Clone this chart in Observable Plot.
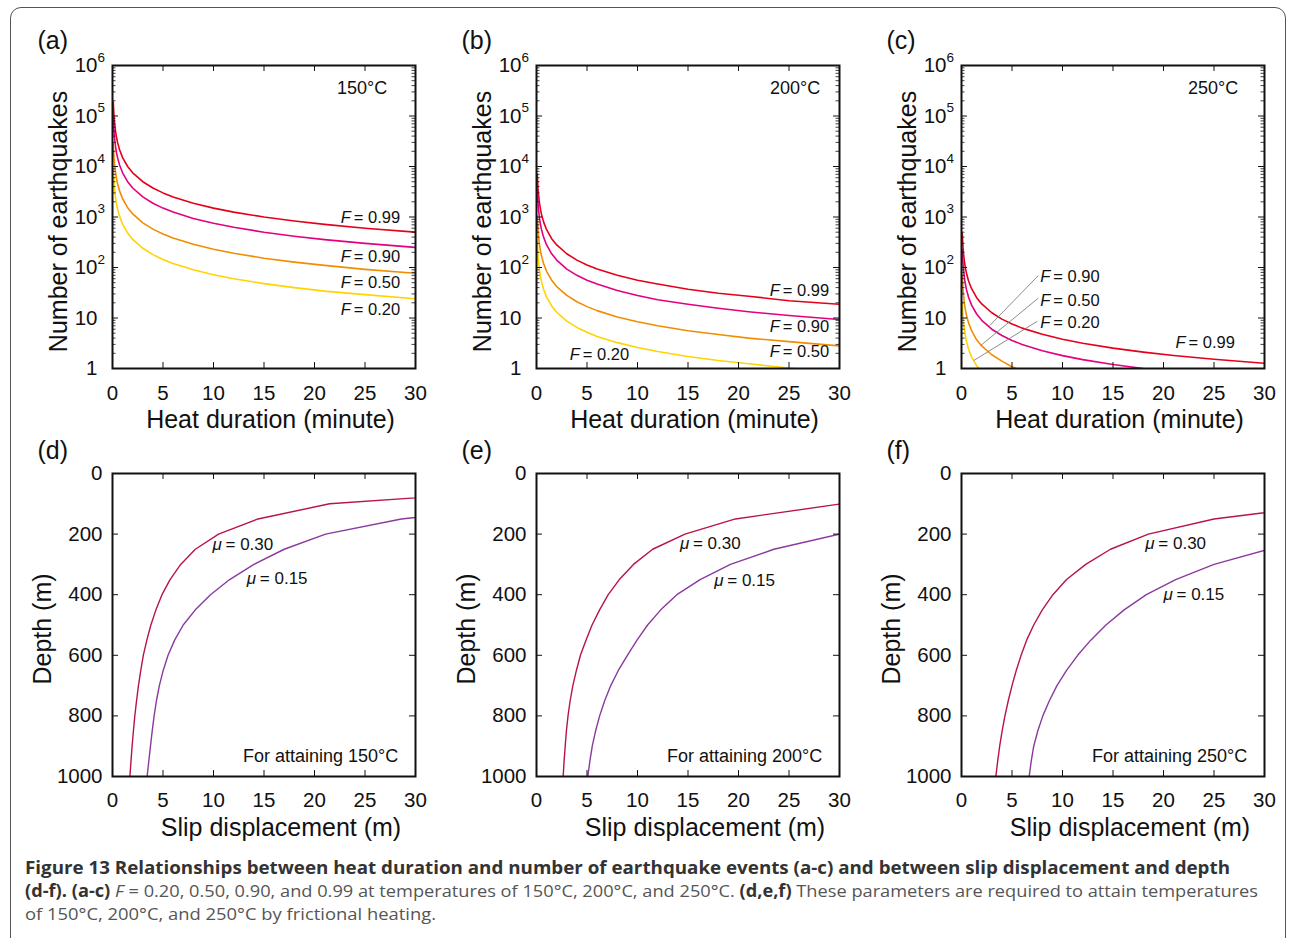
<!DOCTYPE html>
<html>
<head>
<meta charset="utf-8">
<script src="https://cdn.jsdelivr.net/npm/d3@7"></script>
<script src="https://cdn.jsdelivr.net/npm/@observablehq/plot@0.6"></script>
<style>
  html, body { margin: 0; padding: 0; background: #fff; }
  body { width: 1290px; height: 938px; overflow: hidden; position: relative; font-family: "Liberation Sans", Arial, sans-serif; }
  #border { position: absolute; left: 10px; top: 7px; width: 1276px; height: 1000px; border: 1.5px solid #555; border-radius: 11px; box-sizing: border-box; }
  .panel { position: absolute; width: 430px; }
  .panel svg { overflow: visible; }
  #caption { position: absolute; left: 0; top: 850px; }
</style>
</head>
<body>
<div id="border"></div>
<div id="pa" class="panel" style="left:0px;top:0px"></div>
<div id="pb" class="panel" style="left:430px;top:0px"></div>
<div id="pc" class="panel" style="left:860px;top:0px"></div>
<div id="pd" class="panel" style="left:0px;top:430px"></div>
<div id="pe" class="panel" style="left:430px;top:430px"></div>
<div id="pf" class="panel" style="left:860px;top:430px"></div>
<svg id="caption" width="1290" height="88">
  <text x="25" y="24" font-family="'Open Sans', sans-serif" font-size="17.5" fill="#333" font-weight="700" textLength="1205" lengthAdjust="spacingAndGlyphs">Figure 13 Relationships between heat duration and number of earthquake events (a-c) and between slip displacement and depth</text>
  <text x="25" y="47" font-family="'Open Sans', sans-serif" font-size="17" fill="#555" textLength="1233" lengthAdjust="spacingAndGlyphs"><tspan font-weight="700" fill="#333">(d-f). (a-c)</tspan> <tspan font-style="italic">F</tspan> = 0.20, 0.50, 0.90, and 0.99 at temperatures of 150°C, 200°C, and 250°C. <tspan font-weight="700" fill="#333">(d,e,f)</tspan> These parameters are required to attain temperatures</text>
  <text x="25" y="70" font-family="'Open Sans', sans-serif" font-size="17" fill="#555" textLength="411" lengthAdjust="spacingAndGlyphs">of 150°C, 200°C, and 250°C by frictional heating.</text>
</svg>
<script>
// ---------------- DATA ----------------
// Heat duration (minute) sample points, shared by panels (a)-(c)
const durationMin = [0.08, 0.1, 0.15, 0.2, 0.3, 0.4, 0.5, 0.7, 1, 1.5, 2, 3, 4, 5, 6, 8, 10, 12, 15, 18, 21, 25, 30];
const fLevels = ["0.99", "0.90", "0.50", "0.20"];
const fColors = ["#e5001a", "#e4007f", "#f18d00", "#ffd400"];

// (a) 150 °C : number of earthquakes
const n150F099 = [187500, 150000, 100000, 75000, 50000, 37500, 30000, 21400, 15000, 10000, 7500, 5000, 3750, 3000, 2500, 1875, 1500, 1250, 1000, 833, 714, 600, 500];
const n150F090 = [93750, 75000, 50000, 37500, 25000, 18750, 15000, 10700, 7500, 5000, 3750, 2500, 1875, 1500, 1250, 938, 750, 625, 500, 417, 357, 300, 250];
const n150F050 = [28750, 23000, 15330, 11500, 7670, 5750, 4600, 3290, 2300, 1530, 1150, 767, 575, 460, 383, 288, 230, 192, 153, 128, 110, 92, 77];
const n150F020 = [9000, 7200, 4800, 3600, 2400, 1800, 1440, 1030, 720, 480, 360, 240, 180, 144, 120, 90, 72, 60, 48, 40, 34, 29, 24];
// (b) 200 °C
const n200F099 = [7000, 5600, 3730, 2800, 1870, 1400, 1120, 800, 560, 373, 280, 187, 140, 112, 93, 70, 56, 47, 37, 31, 27, 22, 18.7];
const n200F090 = [3500, 2800, 1870, 1400, 933, 700, 560, 400, 280, 187, 140, 93, 70, 56, 47, 35, 28, 23, 18.7, 15.6, 13.3, 11.2, 9.3];
const n200F050 = [1050, 840, 560, 420, 280, 210, 168, 120, 84, 56, 42, 28, 21, 16.8, 14, 10.5, 8.4, 7, 5.6, 4.7, 4, 3.4, 2.8];
const n200F020 = [325, 260, 173, 130, 87, 65, 52, 37, 26, 17.3, 13, 8.7, 6.5, 5.2, 4.3, 3.25, 2.6, 2.17, 1.73, 1.44, 1.24, 1.02, 0.85];
// (c) 250 °C
const n250F099 = [475, 380, 253, 190, 127, 95, 76, 54, 38, 25.3, 19, 12.7, 9.5, 7.6, 6.3, 4.75, 3.8, 3.17, 2.53, 2.11, 1.81, 1.52, 1.27];
const n250F090 = [225, 180, 120, 90, 60, 45, 36, 25.7, 18, 12, 9, 6, 4.5, 3.6, 3, 2.25, 1.8, 1.5, 1.2, 1.0, 0.86];
const n250F050 = [70, 56, 37, 28, 18.7, 14, 11.2, 8, 5.6, 3.7, 2.8, 1.87, 1.4, 1.08, 0.9];
const n250F020 = [21, 17, 11.3, 8.5, 5.7, 4.25, 3.4, 2.4, 1.7, 1.13, 0.85];

// (d)-(f): depth (m) vs slip displacement (m)
const muLevels = ["0.30", "0.15"];
const muColors = ["#b8124f", "#8a3a9f"];
const depthD030 = [50, 100, 150, 200, 250, 300, 350, 400, 450, 500, 550, 600, 650, 700, 750, 800, 850, 900, 950, 1000];
const slipD030  = [43, 21.5, 14.4, 10.5, 8.2, 6.75, 5.7, 4.9, 4.3, 3.8, 3.4, 3.05, 2.8, 2.57, 2.38, 2.21, 2.07, 1.94, 1.83, 1.72];
const depthD015 = [100, 150, 200, 250, 300, 350, 400, 450, 500, 550, 600, 650, 700, 750, 800, 850, 900, 950, 1000];
const slipD015  = [43, 28.6, 21.1, 17.0, 14.0, 11.6, 9.7, 8.2, 7.0, 6.15, 5.5, 5.02, 4.64, 4.35, 4.12, 3.93, 3.76, 3.59, 3.43];
const depthE030 = [100, 150, 200, 250, 300, 350, 400, 450, 500, 550, 600, 650, 700, 750, 800, 850, 900, 950, 1000];
const slipE030  = [30.2, 19.7, 14.7, 11.5, 9.6, 8.2, 7.1, 6.25, 5.5, 4.9, 4.35, 3.95, 3.6, 3.33, 3.12, 2.96, 2.84, 2.73, 2.64];
const depthE015 = [200, 250, 300, 350, 400, 450, 500, 550, 600, 650, 700, 750, 800, 850, 900, 950, 1000];
const slipE015  = [30, 23.5, 19.2, 16.2, 13.9, 12.3, 11.0, 9.95, 9.0, 8.1, 7.35, 6.75, 6.25, 5.85, 5.52, 5.28, 5.08];
const depthF030 = [100, 150, 200, 250, 300, 350, 400, 450, 500, 550, 600, 650, 700, 750, 800, 850, 900, 950, 1000];
const slipF030  = [37, 25, 18.5, 14.75, 12.3, 10.4, 9.05, 8.0, 7.15, 6.45, 5.9, 5.42, 5.0, 4.63, 4.3, 4.02, 3.78, 3.58, 3.4];
const depthF015 = [200, 250, 300, 350, 400, 450, 500, 550, 600, 650, 700, 750, 800, 850, 900, 950, 1000];
const slipF015  = [37, 30.4, 25, 21.2, 18.3, 16.1, 14.3, 12.8, 11.5, 10.4, 9.45, 8.7, 8.05, 7.55, 7.15, 6.9, 6.7];

// Tick values
const xTicks = [0, 5, 10, 15, 20, 25, 30];
const yLogMajor = [1, 10, 100, 1000, 10000, 100000, 1000000];
const yLogMinor = [2,3,4,5,6,7,8,9,20,30,40,50,60,70,80,90,200,300,400,500,600,700,800,900,2000,3000,4000,5000,6000,7000,8000,9000,20000,30000,40000,50000,60000,70000,80000,90000,200000,300000,400000,500000,600000,700000,800000,900000];
const yLogExponent = ["", "", "2", "3", "4", "5", "6"];
const depthTicks = [0, 200, 400, 600, 800, 1000];

// ---------------- DRAWING ----------------
const FONT = "'Liberation Sans', Arial, Helvetica, sans-serif";
const IW = 303, IH = 303;

function frameTicks(xVals, yVals, yMinor) {
  const m = [
    Plot.tickX(xVals, {x: d => d, insetTop: IH - 6, stroke: "#111", strokeWidth: 1}),
    Plot.tickX(xVals, {x: d => d, insetBottom: IH - 6, stroke: "#111", strokeWidth: 1}),
    Plot.tickY(yVals, {y: d => d, insetRight: IW - 6, stroke: "#111", strokeWidth: 1}),
    Plot.tickY(yVals, {y: d => d, insetLeft: IW - 6, stroke: "#111", strokeWidth: 1})
  ];
  if (yMinor) {
    m.push(Plot.tickY(yMinor, {y: d => d, insetRight: IW - 3.5, stroke: "#111", strokeWidth: 0.8}));
    m.push(Plot.tickY(yMinor, {y: d => d, insetLeft: IW - 3.5, stroke: "#111", strokeWidth: 0.8}));
  }
  return m;
}

function topPanel(el, p) {
  const W = 430, H = 430, mT = 65, mB = H - 65 - IH, mL = p.mL, mR = W - p.mL - IW;
  const rows = p.series.flatMap((arr, i) => arr.map((n, j) => ({t: durationMin[j], n, F: fLevels[i]})));
  const marks = [
    Plot.line(rows, {x: "t", y: "n", z: "F", stroke: "F", strokeWidth: 1.6, clip: true}),
    ...frameTicks(xTicks, yLogMajor, yLogMinor),
    Plot.axisX({ticks: xTicks, tickSize: 0, tickPadding: 17, label: null, fontSize: 20.5}),
    Plot.axisY({ticks: yLogMajor, tickSize: 0, tickPadding: 15, label: null, tickFormat: d => (d === 1 ? "1" : "10"), fontSize: 20.5}),
    Plot.text(yLogMajor.map((v, i) => ({v, e: yLogExponent[i]})).filter(d => d.e), {y: "v", text: "e", frameAnchor: "left", dx: -15, dy: -8, textAnchor: "start", fontSize: 13.5}),
    Plot.text(["Heat duration (minute)"], {frameAnchor: "bottom", dx: 6.5, dy: 51, textAnchor: "middle", lineAnchor: "middle", fontSize: 25}),
    Plot.text(["Number of earthquakes"], {frameAnchor: "left", dx: -54, dy: 4.5, rotate: -90, textAnchor: "middle", lineAnchor: "middle", fontSize: 25}),
    Plot.text([p.letter], {frameAnchor: "top-left", dx: -75, dy: -25, textAnchor: "start", lineAnchor: "middle", fontSize: 25}),
    Plot.text([p.temp], {x: () => p.tempT, y: () => 350000, textAnchor: "end", fontSize: 18}),
    Plot.link(p.leaders, {x1: "t1", y1: "n1", x2: "t2", y2: "n2", stroke: "#808080", strokeWidth: 0.9}),
    Plot.text(p.labels, {x: "t", y: "n", text: () => "F", fontStyle: "italic", textAnchor: "start", fontSize: 16.5}),
    Plot.text(p.labels, {x: "t", y: "n", text: d => "= " + d.F, dx: 13, textAnchor: "start", fontSize: 16.5}),
    Plot.frame({stroke: "#111", strokeWidth: 2})
  ];
  const svg = Plot.plot({
    width: W, height: H, marginTop: mT, marginBottom: mB, marginLeft: mL, marginRight: mR,
    style: {fontFamily: FONT, fontSize: "20.5px", color: "#111", background: "transparent"},
    x: {domain: [0, 30]},
    y: {type: "log", domain: [1, 1e6]},
    color: {domain: fLevels, range: fColors},
    marks
  });
  document.getElementById(el).appendChild(svg);
}

function bottomPanel(el, p) {
  const W = 430, H = 420, mT = 43, mB = H - 43 - IH, mL = p.mL, mR = W - p.mL - IW;
  const rows = [
    ...p.depth030.map((z, i) => ({z, s: p.slip030[i], mu: "0.30"})),
    ...p.depth015.map((z, i) => ({z, s: p.slip015[i], mu: "0.15"}))
  ];
  const marks = [
    Plot.line(rows, {x: "s", y: "z", z: "mu", stroke: "mu", strokeWidth: 1.4, clip: true}),
    ...frameTicks(xTicks, depthTicks, null),
    Plot.axisX({ticks: xTicks, tickSize: 0, tickPadding: 16, label: null, fontSize: 20.5}),
    Plot.axisY({ticks: depthTicks, tickSize: 0, tickPadding: 10, label: null, tickFormat: d => String(d), fontSize: 20.5}),
    Plot.text(["Slip displacement (m)"], {frameAnchor: "bottom", dx: 17, dy: 51, textAnchor: "middle", lineAnchor: "middle", fontSize: 25}),
    Plot.text(["Depth (m)"], {frameAnchor: "left", dx: -70, dy: 4, rotate: -90, textAnchor: "middle", lineAnchor: "middle", fontSize: 25}),
    Plot.text([p.letter], {frameAnchor: "top-left", dx: -75, dy: -23, textAnchor: "start", lineAnchor: "middle", fontSize: 25}),
    Plot.text([p.note], {x: () => 28.3, y: () => 934, textAnchor: "end", fontSize: 18}),
    Plot.text(p.labels, {x: "s", y: "z", text: () => "μ", fontStyle: "italic", textAnchor: "start", fontSize: 17}),
    Plot.text(p.labels, {x: "s", y: "z", text: d => "= " + d.mu, dx: 13, textAnchor: "start", fontSize: 17}),
    Plot.frame({stroke: "#111", strokeWidth: 2})
  ];
  const svg = Plot.plot({
    width: W, height: H, marginTop: mT, marginBottom: mB, marginLeft: mL, marginRight: mR,
    style: {fontFamily: FONT, fontSize: "20.5px", color: "#111", background: "transparent"},
    x: {domain: [0, 30]},
    y: {domain: [0, 1000], reverse: true},
    color: {domain: muLevels, range: muColors},
    marks
  });
  document.getElementById(el).appendChild(svg);
}

topPanel("pa", {
  letter: "(a)", mL: 112, temp: "150°C", tempT: 27.2,
  series: [n150F099, n150F090, n150F050, n150F020],
  labels: [{F: "0.99", t: 22.6, n: 977}, {F: "0.90", t: 22.6, n: 165}, {F: "0.50", t: 22.6, n: 50.5}, {F: "0.20", t: 22.6, n: 14.7}],
  leaders: []
});
topPanel("pb", {
  letter: "(b)", mL: 106, temp: "200°C", tempT: 28.1,
  series: [n200F099, n200F090, n200F050, n200F020],
  labels: [{F: "0.99", t: 23.1, n: 35}, {F: "0.90", t: 23.1, n: 6.8}, {F: "0.50", t: 23.1, n: 2.17}, {F: "0.20", t: 3.3, n: 1.85}],
  leaders: []
});
topPanel("pc", {
  letter: "(c)", mL: 101, temp: "250°C", tempT: 27.4,
  series: [n250F099, n250F090, n250F050, n250F020],
  labels: [{F: "0.99", t: 21.2, n: 3.27}, {F: "0.90", t: 7.8, n: 66}, {F: "0.50", t: 7.8, n: 22.2}, {F: "0.20", t: 7.8, n: 7.96}],
  leaders: [{t1: 7.6, n1: 69, t2: 2.8, n2: 7.1}, {t1: 7.6, n1: 24.7, t2: 1.9, n2: 2.85}, {t1: 7.5, n1: 8.6, t2: 1.22, n2: 1.44}]
});
bottomPanel("pd", {
  letter: "(d)", mL: 112, note: "For attaining 150°C",
  depth030: depthD030, slip030: slipD030, depth015: depthD015, slip015: slipD015,
  labels: [{mu: "0.30", s: 9.9, z: 234}, {mu: "0.15", s: 13.3, z: 346}]
});
bottomPanel("pe", {
  letter: "(e)", mL: 106, note: "For attaining 200°C",
  depth030: depthE030, slip030: slipE030, depth015: depthE015, slip015: slipE015,
  labels: [{mu: "0.30", s: 14.2, z: 230}, {mu: "0.15", s: 17.6, z: 352}]
});
bottomPanel("pf", {
  letter: "(f)", mL: 101, note: "For attaining 250°C",
  depth030: depthF030, slip030: slipF030, depth015: depthF015, slip015: slipF015,
  labels: [{mu: "0.30", s: 18.2, z: 230}, {mu: "0.15", s: 20, z: 401}]
});
</script>
</body>
</html>
